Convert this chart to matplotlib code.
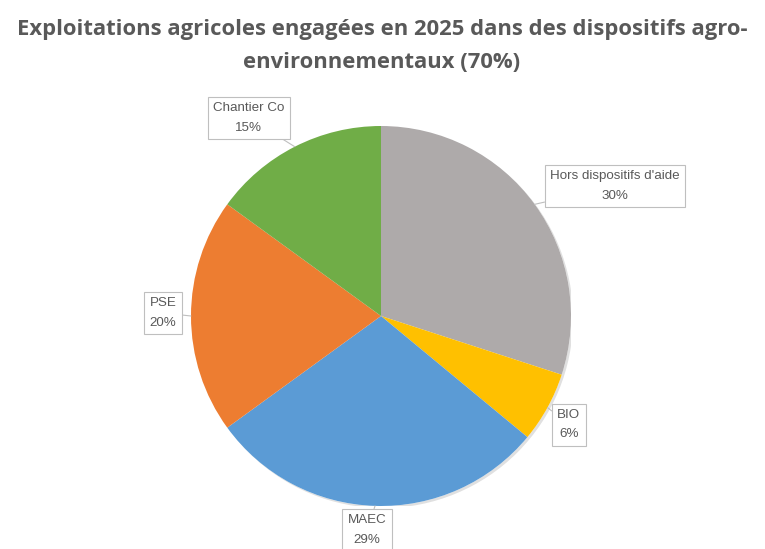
import matplotlib
matplotlib.use('Agg')
import matplotlib.pyplot as plt
import matplotlib.patches as mpatches
import matplotlib.patheffects as pe
import numpy as np

# Data
labels = ['Hors dispositifs d\'aide', 'BIO', 'MAEC', 'PSE', 'Chantier Co']
shares = [30, 6, 29, 20, 15]
colors = ['#AEAAAA', '#FFC000', '#5B9BD5', '#ED7D31', '#70AD47']
title_lines = ['Exploitations agricoles engagées en 2025 dans des dispositifs agro-',
               'environnementaux (70%)']

# Label box centres, in units of pie radius
label_pos = [(1.232, 0.684), (0.989, -0.573), (-0.074, -1.126), (-1.147, 0.016), (-0.695, 1.042)]

text_color = '#595959'
plt.rcParams['font.family'] = ['Liberation Sans', 'DejaVu Sans']

W, H = 765, 549
fig = plt.figure(figsize=(W / 100, H / 100), dpi=100)

# Pie placement (pixels, measured on the reference)
cx, cy, r = 381, 316, 190
ax = fig.add_axes([(cx - r) / W, (H - cy - r) / H, 2 * r / W, 2 * r / H])
ax.set_xlim(-1, 1)
ax.set_ylim(-1, 1)
ax.set_aspect('equal')
ax.axis('off')

# Soft shadow under the pie
shadow = mpatches.Circle((0, 0), 1.0, facecolor='white', edgecolor='none', zorder=0,
                         path_effects=[pe.SimplePatchShadow(offset=(1.5, -1.5), shadow_rgbFace='#000000', alpha=0.12),
                                       pe.Normal()])
ax.add_patch(shadow)

wedges, _ = ax.pie(shares, colors=colors, startangle=90, counterclock=False,
                   radius=1.0, wedgeprops=dict(linewidth=0), frame=False)
ax.set_xlim(-1, 1)
ax.set_ylim(-1, 1)

# Callout labels
for w, lab, val, pos in zip(wedges, labels, shares, label_pos):
    mid = np.deg2rad((w.theta1 + w.theta2) / 2)
    edge = (np.cos(mid), np.sin(mid))
    ax.annotate(f'{lab}\n{val}%', xy=edge, xytext=pos, xycoords='data', textcoords='data',
                ha='center', va='center', fontsize=9.6, color=text_color, linespacing=1.8,
                annotation_clip=False,
                bbox=dict(boxstyle='square,pad=0.4', facecolor='white', edgecolor='#BFBFBF', linewidth=0.8),
                arrowprops=dict(arrowstyle='-', color='#BFBFBF', linewidth=0.8, shrinkA=0, shrinkB=0))

# Title
for line, y in zip(title_lines, [30, 62]):
    fig.text(382 / W, 1 - y / H, line, ha='center', va='center', fontsize=15.8,
             fontweight='bold', color=text_color, family=['Open Sans', 'DejaVu Sans'])

fig.savefig('out.png', dpi=100, facecolor='white')
